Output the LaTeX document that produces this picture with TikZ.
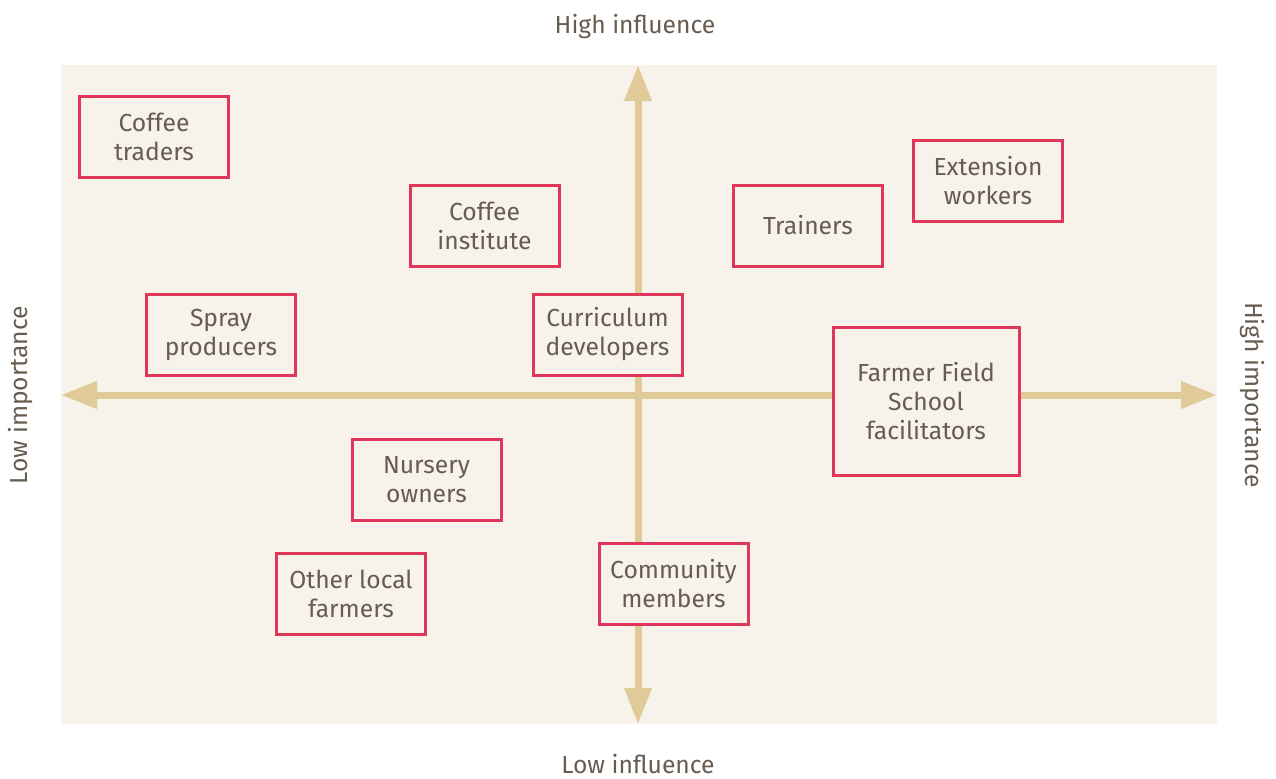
\documentclass[tikz,border=0pt]{standalone}
\usepackage{fontspec}
\setmainfont{Fira Sans}
\usetikzlibrary{arrows.meta}
\definecolor{bgc}{HTML}{F7F2EA}
\definecolor{axisc}{HTML}{E0CA98}
\definecolor{boxc}{HTML}{E0365A}
\definecolor{txtc}{HTML}{675C4F}
\tikzset{
  stake/.style={draw=boxc, line width=2.25pt, fill=bgc, text=txtc, align=center,
    minimum width=111.75pt, minimum height=60.75pt, inner sep=2pt,
    font=\fontsize{18.5pt}{21.75pt}\selectfont},
  bigstake/.style={stake, minimum width=139.5pt, minimum height=111pt},
  axisline/.style={draw=axisc, line width=5.25pt, {Triangle[length=27pt,width=19.5pt]}-{Triangle[length=27pt,width=19.5pt]}},
  axlabel/.style={text=txtc, font=\fontsize{18.5pt}{21pt}\selectfont, inner sep=0pt, text depth=0pt}
}
\begin{document}
\begin{tikzpicture}[x=0.75pt,y=-0.75pt]
\useasboundingbox (0,0) rectangle (1276,778);
\fill[bgc] (61,65) rectangle (1217,724);
\coordinate (L) at (61,395);
\coordinate (R) at (1217,395);
\coordinate (T) at (638,65);
\coordinate (B) at (638,724);
\draw[axisline] (L) -- (R);
\draw[axisline] (B) -- (T);
\node[axlabel] (hi) at (635,24) {High influence};
\node[axlabel] (li) at (638,764) {Low influence};
\node[axlabel, rotate=90] (lim) at (18,395) {Low importance};
\node[axlabel, rotate=-90] (him) at (1255,395) {High importance};
\node[stake] (ct) at (154,136.5) {Coffee\\traders};
\node[stake] (ci) at (484.5,225.5) {Coffee\\institute};
\node[stake] (tr) at (808,225.5) {Trainers};
\node[stake] (ew) at (988,180.5) {Extension\\workers};
\node[stake] (sp) at (221,334.5) {Spray\\producers};
\node[stake] (cd) at (607.5,334.5) {Curriculum\\developers};
\node[bigstake] (ffs) at (926,401) {Farmer Field\\School\\facilitators};
\node[stake] (no) at (426.5,480) {Nursery\\owners};
\node[stake] (olf) at (351,594) {Other local\\farmers};
\node[stake] (cm) at (673.5,583.5) {Community\\members};
\end{tikzpicture}
\end{document}
